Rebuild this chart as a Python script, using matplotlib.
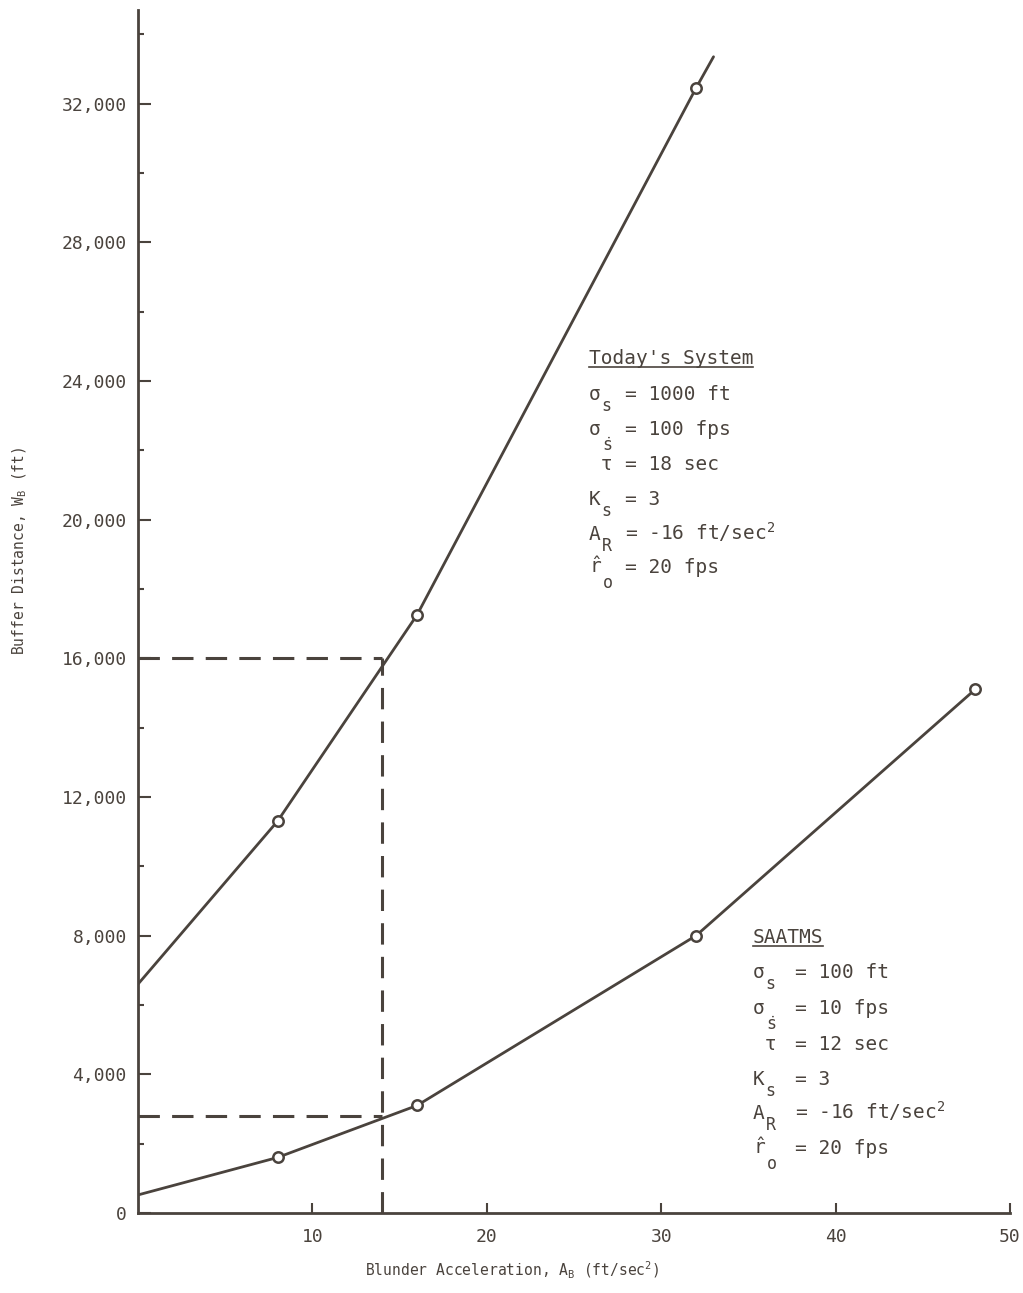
"""
Buffer distance vs blunder acceleration, Today's System vs SAATMS.
Saves: out.png
"""

import matplotlib
matplotlib.use('Agg')
import matplotlib.pyplot as plt
from matplotlib.ticker import FuncFormatter, MultipleLocator

INK = '#4a433d'

plt.rcParams['font.family'] = ['DejaVu Sans Mono']
plt.rcParams['mathtext.fontset'] = 'custom'
plt.rcParams['mathtext.rm'] = 'DejaVu Sans Mono'
plt.rcParams['mathtext.it'] = 'DejaVu Sans Mono'
plt.rcParams['text.color'] = INK

# =============================================================================
# DATA
# =============================================================================

today_line_x = [0, 8, 16, 32, 33]
today_line_y = [6600, 11300, 17250, 32450, 33350]
today_pts_x = [8, 16, 32]
today_pts_y = [11300, 17250, 32450]

saatms_line_x = [0, 8, 16, 32, 48]
saatms_line_y = [520, 1600, 3100, 8000, 15100]
saatms_pts_x = [8, 16, 32, 48]
saatms_pts_y = [1600, 3100, 8000, 15100]

# dashed read-off guides
guide_x = 14
guide_today_y = 16000
guide_saatms_y = 2800

x_ticks = [10, 20, 30, 40, 50]
y_ticks = [0, 4000, 8000, 12000, 16000, 20000, 24000, 28000, 32000]

# (symbol, subscript, value)
param_symbols = ['σ', 'σ', ' τ', 'K', 'A', r'$\hat{r}$']
param_subs = ['s', r'$\dot{s}$', '', 's', 'R', 'o']
today_values = ['= 1000 ft', '= 100 fps', '= 18 sec', '= 3',
                '= -16 ft/sec$^2$', '= 20 fps']
saatms_values = ['= 100 ft', '= 10 fps', '= 12 sec', '= 3',
                 '= -16 ft/sec$^2$', '= 20 fps']

# =============================================================================
# PLOT
# =============================================================================

fig = plt.figure(figsize=(10.23, 12.93), dpi=100)
ax = fig.add_axes([0.1349, 0.0619, 0.8524, 0.9304])

line_kw = dict(color=INK, linewidth=2.0, solid_capstyle='round')
mark_kw = dict(linestyle='none', marker='o', markersize=7.5, markerfacecolor='white',
               markeredgecolor=INK, markeredgewidth=1.8, zorder=5)

ax.plot(today_line_x, today_line_y, **line_kw)
ax.plot(today_pts_x, today_pts_y, **mark_kw)
ax.plot(saatms_line_x, saatms_line_y, **line_kw)
ax.plot(saatms_pts_x, saatms_pts_y, **mark_kw)

dash_kw = dict(color=INK, linewidth=2.2, dashes=(7, 4))
ax.plot([0, guide_x], [guide_today_y, guide_today_y], **dash_kw)
ax.plot([0, guide_x], [guide_saatms_y, guide_saatms_y], **dash_kw)
ax.plot([guide_x, guide_x], [0, guide_today_y], **dash_kw)

ax.set_xlim(0, 50)
ax.set_ylim(0, 34700)

for side in ('top', 'right'):
    ax.spines[side].set_visible(False)
for side in ('left', 'bottom'):
    ax.spines[side].set_linewidth(2.0)
    ax.spines[side].set_color(INK)

ax.set_xticks(x_ticks)
ax.set_yticks(y_ticks)
ax.yaxis.set_minor_locator(MultipleLocator(2000))
ax.yaxis.set_major_formatter(FuncFormatter(lambda v, _: f'{int(v):,}'))
ax.tick_params(axis='both', which='both', direction='in', color=INK, width=1.5,
               labelcolor=INK)
ax.tick_params(axis='y', which='major', length=9, pad=8, labelsize=13)
ax.tick_params(axis='y', which='minor', length=4)
ax.tick_params(axis='x', which='major', length=7, pad=11, labelsize=13)

ax.text(0.429, -0.0525, 'Blunder Acceleration, A$_B$ (ft/sec$^2$)',
        transform=ax.transAxes, ha='center', va='baseline', fontsize=10.5)
ax.text(-0.135, 0.55, 'Buffer Distance, W$_B$ (ft)', rotation=90,
        transform=ax.transAxes, ha='center', va='center', fontsize=10.5)

FS = 14


def param_block(title, values, x_left, x_eq, y_title, y_rows):
    t = ax.text(x_left, y_title, title, fontsize=FS, va='baseline')
    syms = []
    for sym, val, y in zip(param_symbols, values, y_rows):
        syms.append(ax.text(x_left, y, sym, fontsize=FS, va='baseline'))
        ax.text(x_eq, y, val, fontsize=FS, va='baseline')
    fig.canvas.draw()
    inv = ax.transData.inverted()
    # subscripts sit low and nearly full size, as on the typewritten original
    for s, sub, y in zip(syms, param_subs, y_rows):
        if not sub:
            continue
        bb = s.get_window_extent()
        xs, _ = inv.transform([bb.x1 + 1, 0])
        drop = 11 if sub.startswith('$') or sub == 'o' else 8
        ax.annotate(sub, xy=(xs, y), xytext=(0, -drop), textcoords='offset points',
                    fontsize=12, va='baseline', ha='left')
    # underline the block title
    bb = t.get_window_extent()
    (ux0, uy), (ux1, _) = inv.transform([[bb.x0, bb.y0 + 1], [bb.x1, bb.y0 + 1]])
    ax.plot([ux0, ux1], [uy, uy], color=INK, linewidth=1.2, clip_on=False)


param_block("Today's System", today_values, 25.85, 27.95, 24480,
            [23440, 22430, 21430, 20420, 19410, 18460])
param_block('SAATMS', saatms_values, 35.25, 37.7, 7776,
            [6768, 5731, 4695, 3687, 2707, 1699])

plt.savefig('out.png', dpi=100)
plt.close()
